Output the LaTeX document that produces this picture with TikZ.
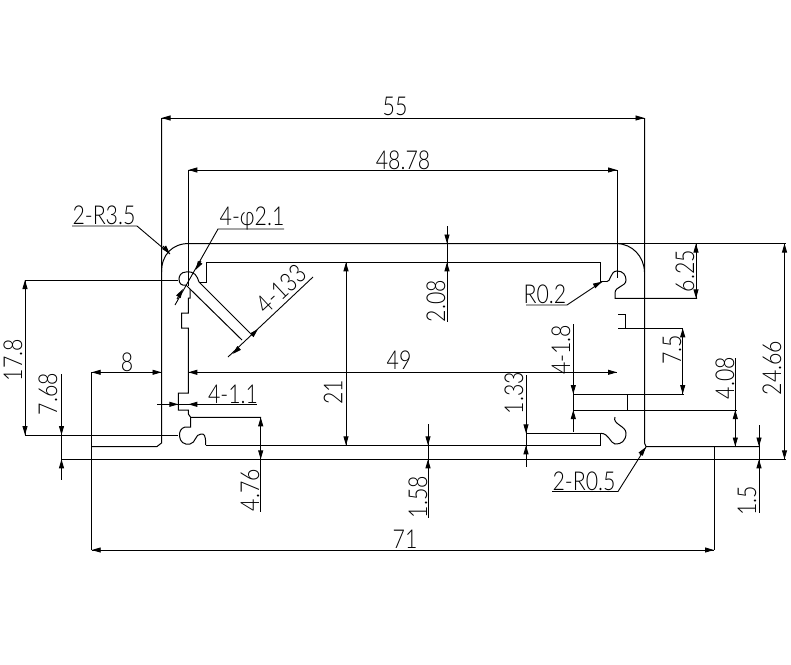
\documentclass[tikz,border=0pt]{standalone}
\usepackage{fontspec}
\usepackage{tikz}
\usetikzlibrary{arrows.meta}
\newfontfamily\cadfont[FakeStretch=0.82]{Lato Light}

\begin{document}
\begin{tikzpicture}[x=1pt,y=-1pt,>={Stealth[length=9pt,width=5pt,inset=0pt]}]%extrusion section

      \tikzstyle{profile}=[line width=1pt,black]
      \tikzstyle{dim}=[line width=0.9pt,black]
      \tikzstyle{tip}=[line width=0.9pt,black,->]
      \tikzstyle{lab}=[inner sep=0pt,font=\cadfont\fontsize{26}{26}\selectfont]
      \tikzstyle{vlab}=[lab,rotate=90]

      \useasboundingbox (0,0) rectangle (791,664);

      %outer and inner outline
      \draw [profile] (161.5,272) .. controls (161.5,255) and (172,243.5) .. (189,243.5) -- (617,243.5)
            .. controls (632,244) and (644,256) .. (644.5,272);
      \draw [profile] (92,446.5) -- (157,446.5) -- (161.5,443) -- (161.5,118);
      \draw [profile] (644.5,118) -- (644.5,443) -- (646,446.5) -- (759,446.5);
      \draw [profile] (206,445.3) -- (600.5,445.3) -- (600.5,433.3) -- (526,433.3);
      \draw [profile] (600.5,262.3) -- (206,262.3) -- (206,282) -- (199,282);
      \draw [profile] (600.5,262.3) -- (600.5,281.7) -- (606.7,281.7);

      %top left slot and wall
      \draw [profile] (199,282) .. controls (197,276) and (195,271) .. (186,272)
            .. controls (181,272) and (179,276) .. (179,279)
            .. controls (179,284) and (182,286) .. (186,285) -- (190,289);
      \draw [profile] (188.3,170) -- (188.3,286);
      \draw [profile] (190,289) -- (190,298) -- (188.3,298) -- (188.3,313) -- (181.7,313) -- (181.7,328)
            -- (188.3,328) -- (188.3,393) -- (178.3,393) -- (178.3,410) -- (188.3,410) -- (188.3,414)
            -- (190.7,417.3) -- (261,417.3);
      \draw [profile] (199,282) -- (250,333);
      \draw [profile] (190,289) -- (242,340);

      %bottom left slot
      \draw [profile] (190.7,417.3) -- (190.7,427) -- (185,427)
            .. controls (181,428) and (179,432) .. (179.5,436)
            .. controls (180,442) and (184,445) .. (190,444)
            .. controls (196,443) and (195,434) .. (201,434)
            .. controls (204,434) and (205.7,434) .. (205.7,445);

      %top right slot
      \draw [profile] (617,170) -- (617,278);
      \draw [profile] (606.7,281.7) .. controls (611,282) and (610,271) .. (617,271)
            .. controls (623,271) and (626,275) .. (626,280)
            .. controls (626,287) and (615,286) .. (615,293) -- (615,298.3) -- (697,298.3);
      \draw [profile] (618.3,314) -- (625,314) -- (625,328.3) -- (618.3,328.3);
      \draw [profile] (625,328.3) -- (683,328.3);

      %bottom right slot
      \draw [profile] (573,394) -- (684,394);
      \draw [profile] (573,410) -- (737,410);
      \draw [profile] (627.5,394) -- (627.5,410);
      \draw [profile] (615,417) .. controls (612,424) and (626,426) .. (626,433)
            .. controls (626,441) and (621,444.5) .. (615,444)
            .. controls (610,443) and (609,433.3) .. (600.5,433.3);

      %long lines
      \draw [dim] (25,280) -- (178,280);
      \draw [dim] (25,435) -- (178,435);
      \draw [dim] (62,459.3) -- (786,459.3);
      \draw [dim] (617,243.5) -- (786,243.5);
      \draw [dim] (91.7,372.3) -- (91.7,550);
      \draw [dim] (714,446.5) -- (714,550);

      %dimension lines
      \draw [dim] (161.5,118) -- (644.5,118);
      \draw [dim] (188.3,170) -- (617,170);
      \draw [dim] (91.7,372.3) -- (161.5,372.3);
      \draw [dim] (188.3,372.3) -- (617,372.3);
      \draw [dim] (91.7,550) -- (714,550);
      \draw [dim] (157,404.3) -- (257,404.3);
      \draw [dim] (25,280) -- (25,435);
      \draw [dim] (61.5,374) -- (61.5,480);
      \draw [dim] (346,262.3) -- (346,445.3);
      \draw [dim] (447,226) -- (447,322);
      \draw [dim] (260.7,417.3) -- (260.7,512);
      \draw [dim] (428,424) -- (428,518);
      \draw [dim] (526,375) -- (526,467);
      \draw [dim] (573.3,324) -- (573.3,432);
      \draw [dim] (682.7,328.3) -- (682.7,394);
      \draw [dim] (696,243.5) -- (696,298.3);
      \draw [dim] (735.3,358) -- (735.3,446.5);
      \draw [dim] (759,425) -- (759,513);
      \draw [dim] (784.5,243.5) -- (784.5,459.3);

      %leaders with the line under their text
      \draw [dim] (72,226) -- (137,226) -- (170,254);
      \draw [dim] (284,229) -- (218,229) -- (175,305);
      \draw [dim] (526,305) -- (567,305) -- (602,281.7);
      \draw [dim] (552,491.5) -- (618,491.5) -- (646,447);
      \draw [dim] (228,357) -- (313,277);

      %arrowheads
      \foreach \fx/\fy/\tx/\ty in {
        171/118/161.5/118, 635/118/644.5/118, 198/170/188.3/170, 607/170/617/170,
        101/372.3/91.7/372.3, 151/372.3/161.5/372.3, 198/372.3/188.3/372.3, 607/372.3/617/372.3,
        102/550/91.7/550, 704/550/714/550,
        167/404.3/178.3/404.3, 199/404.3/188.3/404.3,
        25/290/25/280, 25/425/25/435,
        61.5/424/61.5/435, 61.5/470/61.5/459.3,
        346/272/346/262.3, 346/435/346/445.3,
        447/232/447/243.5, 447/273/447/262.3,
        260.7/428/260.7/417.3, 260.7/449/260.7/459.3,
        428/434/428/445.3, 428/470/428/459.3,
        526/423/526/433.3, 526/456/526/445.3,
        573.3/384/573.3/394, 573.3/420/573.3/410,
        682.7/338/682.7/328.3, 682.7/384/682.7/394,
        696/253/696/243.5, 696/288/696/298.3,
        735.3/420/735.3/410, 735.3/436/735.3/446.5,
        759/436/759/446.5, 759/470/759/459.3,
        784.5/253/784.5/243.5, 784.5/449/784.5/459.3,
        163/246/170/254, 201/261/195.5/270,
        177/299/183/289, 594/286/602/281.7, 640/455/646/447,
        238/349/232.5/354, 252/335/258/329}
        \draw [tip] (\fx,\fy) -- (\tx,\ty);

      %labels
      \node [lab] (t55)   at (395,106) {55};
      \node [lab] (t4878) at (403,160) {48.78};
      \node [lab] (t8)    at (127,362) {8};
      \node [lab] (t49)   at (399,360) {49};
      \node [lab] (t71)   at (405,539) {71};
      \node [lab] (t2r35) at (104,215) {2-R3.5};
      \node [lab] (t4d21) at (252,218) {4-φ2.1};
      \node [lab] (t411)  at (233,394) {4-1.1};
      \node [lab] (tr02)  at (545,294) {R0.2};
      \node [lab] (t2r05) at (584,481) {2-R0.5};
      \node [vlab] (t178)  at (13,360)  {17.8};
      \node [vlab] (t768)  at (48,394)  {7.68};
      \node [vlab] (t21)   at (333,392) {21};
      \node [vlab] (t208)  at (436,301) {2.08};
      \node [vlab] (t476)  at (250,490) {4.76};
      \node [vlab] (t158)  at (418,497) {1.58};
      \node [vlab] (t133)  at (514,393) {1.33};
      \node [vlab] (t418)  at (561,350) {4-1.8};
      \node [vlab] (t75)   at (672,350) {7.5};
      \node [vlab] (t625)  at (685,271) {6.25};
      \node [vlab] (t408)  at (725,378) {4.08};
      \node [vlab] (t15)   at (747,501) {1.5};
      \node [vlab] (t2466) at (772,368) {24.66};
      \node [lab,rotate=43] (t4133) at (281,289) {4-133};

\end{tikzpicture}
\end{document}
